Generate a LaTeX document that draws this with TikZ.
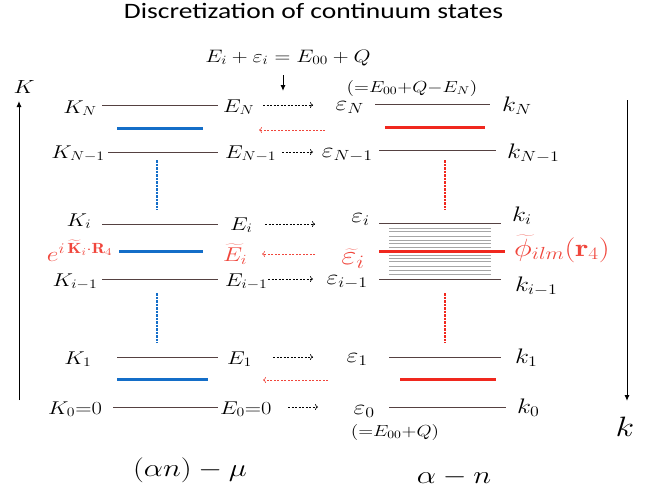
\documentclass[tikz,border=0pt]{standalone}
\usepackage{fix-cm}
\usepackage{fontspec}
\newfontfamily\titlefont{Carlito}
\usetikzlibrary{arrows.meta}
\definecolor{lvlcol}{RGB}{85,65,65}
\definecolor{bluecol}{RGB}{20,110,200}
\definecolor{redline}{RGB}{240,40,30}
\definecolor{redtext}{RGB}{240,70,60}
\newcommand\sx[1]{\scalebox{1.22}[1]{#1}}
\newcommand\fsL{\fontsize{18.5}{22}\selectfont}
\newcommand\fsR{\fontsize{21}{25}\selectfont}
\newcommand\fsS{\fontsize{16}{19}\selectfont}
\tikzset{
  lvl/.style={draw=lvlcol, line width=0.8pt},
  bluebar/.style={draw=bluecol, line width=3pt},
  redbar/.style={draw=redline, line width=3pt},
  fwd/.style={draw=black, dash pattern=on 2pt off 1.5pt, line width=0.6pt, -{To[length=3pt,width=6pt]}},
  back/.style={draw=redtext, dash pattern=on 2pt off 1.5pt, line width=0.6pt, -{To[length=3pt,width=6pt]}},
  bvd/.style={draw=bluecol, dash pattern=on 2.5pt off 1pt, line width=1.2pt},
  rvd/.style={draw=redline, dash pattern=on 2.5pt off 1pt, line width=1.2pt},
  axarrow/.style={draw=black, line width=1pt, -{Latex[length=6pt,width=5pt]}},
  grayln/.style={draw=gray!70, line width=0.5pt},
  labL/.style={inner sep=0pt, font=\fsL},
  labR/.style={inner sep=0pt, font=\fsR},
  labS/.style={inner sep=0pt, font=\fsS},
  redlab/.style={inner sep=0pt, text=redtext},
}
\begin{document}
\begin{tikzpicture}[x=1pt,y=-1pt]
\useasboundingbox (0,0) rectangle (657,493);
% title and equation
\node[inner sep=0pt, anchor=base, font=\titlefont\fontsize{22}{26}\selectfont] (title) at (313.5,18) {\scalebox{1.25}[1]{Discretization of continuum states}};
\node[inner sep=0pt, anchor=base, font=\fontsize{18}{22}\selectfont] (eq) at (288,62) {\sx{$E_i+\varepsilon_i=E_{00}+Q$}};
\coordinate (dA) at (283,75); \coordinate (dB) at (283,91);
\draw[axarrow] (dA) -- (dB);
% axes
\node[inner sep=0pt, font=\fontsize{19}{23}\selectfont] (Klab) at (24,87) {\sx{$K$}};
\coordinate (Kb) at (19,400); \coordinate (Kt) at (19,101);
\draw[axarrow] (Kb) -- (Kt);
\coordinate (kt) at (627,100); \coordinate (kb) at (627,401);
\draw[axarrow] (kt) -- (kb);
\node[inner sep=0pt, font=\fontsize{28}{32}\selectfont] (klab) at (625,427) {\sx{$k$}};
% left levels
\foreach \n/\y/\a/\b in {N/105/102/218, M/152/108/218, I/224/102/218, H/279/102/218, A/357/117/218, Z/407/113/218}{
  \coordinate (L\n a) at (\a,\y); \coordinate (L\n b) at (\b,\y);
  \draw[lvl] (L\n a) -- (L\n b);
}
% right levels
\foreach \n/\y/\a/\b in {N/104/375/490, M/150/379/496, I/223/379/501, H/279/379/501, A/357/389/501, Z/407/389/506}{
  \coordinate (R\n a) at (\a,\y); \coordinate (R\n b) at (\b,\y);
  \draw[lvl] (R\n a) -- (R\n b);
}
% continuum lines
\foreach \y [count=\c] in {228.3,231.7,236,240,243.3,247.3,255,258.3,261.7,266,270,274}{
  \coordinate (ga\c) at (389,\y); \coordinate (gb\c) at (491,\y);
  \draw[grayln] (ga\c) -- (gb\c);
}
% blue bars
\coordinate (B1a) at (117,128); \coordinate (B1b) at (203,128);
\coordinate (B2a) at (119,251); \coordinate (B2b) at (203,251);
\coordinate (B3a) at (117,379); \coordinate (B3b) at (208,379);
\draw[bluebar] (B1a) -- (B1b); \draw[bluebar] (B2a) -- (B2b); \draw[bluebar] (B3a) -- (B3b);
% red bars
\coordinate (C1a) at (385,127); \coordinate (C1b) at (485,127);
\coordinate (C2a) at (379,251); \coordinate (C2b) at (505,251);
\coordinate (C3a) at (400,379); \coordinate (C3b) at (496,379);
\draw[redbar] (C1a) -- (C1b); \draw[redbar] (C2a) -- (C2b); \draw[redbar] (C3a) -- (C3b);
% vertical dashed
\coordinate (bv1) at (157,160); \coordinate (bv2) at (157,210);
\coordinate (bv3) at (157,293); \coordinate (bv4) at (157,343);
\draw[bvd] (bv1) -- (bv2); \draw[bvd] (bv3) -- (bv4);
\coordinate (rv1) at (445,160); \coordinate (rv2) at (445,210);
\coordinate (rv3) at (445,293); \coordinate (rv4) at (445,343);
\draw[rvd] (rv1) -- (rv2); \draw[rvd] (rv3) -- (rv4);
% left labels
\node[labL, anchor=base] (KN) at (80,113) {\sx{$K_N$}};
\node[labL, anchor=base] (KM) at (78,158) {\sx{$K_{N-1}$}};
\node[labL, anchor=base] (KI) at (79,226) {\sx{$K_i$}};
\node[labL, anchor=base] (KH) at (75,286) {\sx{$K_{i-1}$}};
\node[labL, anchor=base] (KA) at (78,364) {\sx{$K_1$}};
\node[labL, anchor=base] (KZ) at (75,414) {\sx{$K_0{=}0$}};
\node[labL, anchor=base west] (EN) at (223,112) {\sx{$E_N$}};
\node[labL, anchor=base west] (EM) at (225,158) {\sx{$E_{N-1}$}};
\node[labL, anchor=base west] (EI) at (230,230) {\sx{$E_i$}};
\node[labL, anchor=base west] (EH) at (225,286) {\sx{$E_{i-1}$}};
\node[labL, anchor=base west] (EA) at (227,364) {\sx{$E_1$}};
\node[labL, anchor=base west] (EZ) at (220,414) {\sx{$E_0{=}0$}};
% right labels
\node[labR, anchor=base east] (eN) at (364,110) {\sx{$\varepsilon_N$}};
\node[labR, anchor=base east] (eM) at (373,157) {\sx{$\varepsilon_{N-1}$}};
\node[labR, anchor=base east] (eI) at (370,222) {\sx{$\varepsilon_i$}};
\node[labR, anchor=base east] (eH) at (368,284) {\sx{$\varepsilon_{i-1}$}};
\node[labR, anchor=base east] (eA) at (368,362) {\sx{$\varepsilon_1$}};
\node[labR, anchor=base east] (eZ) at (375,414) {\sx{$\varepsilon_0$}};
\node[labR, anchor=base west] (kN) at (502,111) {\sx{$k_N$}};
\node[labR, anchor=base west] (kM) at (507,158) {\sx{$k_{N-1}$}};
\node[labR, anchor=base west] (kI) at (512,221) {\sx{$k_i$}};
\node[labR, anchor=base west] (kH) at (515,291) {\sx{$k_{i-1}$}};
\node[labR, anchor=base west] (kA) at (515,363) {\sx{$k_1$}};
\node[labR, anchor=base west] (kZ) at (517,413) {\sx{$k_0$}};
\node[labS] (note1) at (412,88) {\sx{$({=}E_{00}{+}Q{-}E_N)$}};
\node[labS] (note2) at (395,432) {\sx{$({=}E_{00}{+}Q)$}};
% red labels
\node[redlab, anchor=base east, font=\fontsize{21}{25}\selectfont] (ph1) at (113,261) {\sx{$e^{i\,\widetilde{\mathbf{K}}_i\cdot\mathbf{R}_4}$}};
\node[redlab, anchor=base west, font=\fontsize{20}{24}\selectfont] (ph2) at (223,261) {\sx{$\widetilde{E}_i$}};
\node[redlab, anchor=base east, font=\fontsize{27}{31}\selectfont] (ph3) at (365,264) {\sx{$\widetilde{\varepsilon}_i$}};
\node[redlab, anchor=base west, font=\fontsize{25}{29}\selectfont] (ph4) at (514,256) {\sx{$\widetilde{\phi}_{ilm}(\mathbf{r}_4)$}};
% forward arrows
\coordinate (f1a) at (263,105); \coordinate (f1b) at (313,105);
\coordinate (f2a) at (282,152); \coordinate (f2b) at (313,152);
\coordinate (f3a) at (265,224); \coordinate (f3b) at (315,224);
\coordinate (f4a) at (268,279); \coordinate (f4b) at (313,279);
\coordinate (f5a) at (273,357); \coordinate (f5b) at (313,357);
\coordinate (f6a) at (288,407); \coordinate (f6b) at (318,407);
\foreach \c in {1,...,6}{\draw[fwd] (f\c a) -- (f\c b);}
% backward arrows
\coordinate (g1a) at (325,130); \coordinate (g1b) at (259,130);
\coordinate (g2a) at (315,254); \coordinate (g2b) at (262,254);
\coordinate (g3a) at (328,380); \coordinate (g3b) at (263,380);
\foreach \c in {1,2,3}{\draw[back] (g\c a) -- (g\c b);}
% bottom labels
\node[inner sep=0pt, font=\fontsize{25}{29}\selectfont] (lbl1) at (190,470) {\sx{$(\alpha n)-\mu$}};
\node[inner sep=0pt, font=\fontsize{25}{29}\selectfont] (lbl2) at (454,477) {\sx{$\alpha-n$}};
\end{tikzpicture}
\end{document}
